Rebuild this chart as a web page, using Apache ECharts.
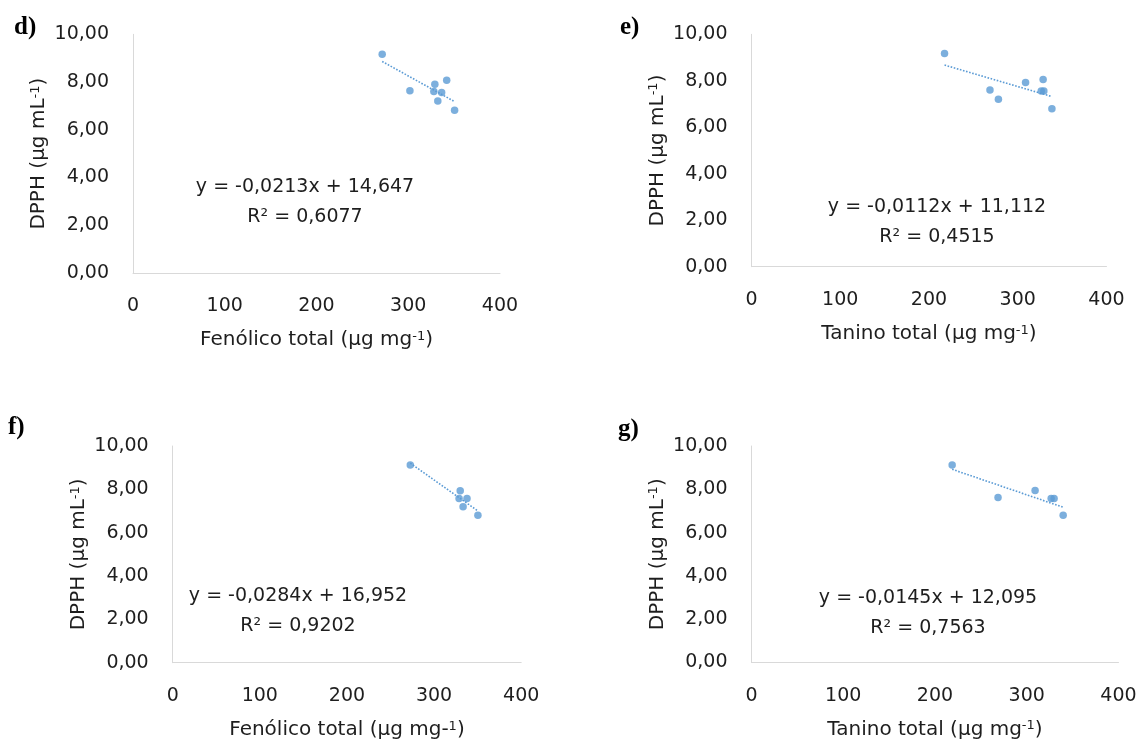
<!DOCTYPE html>
<html>
<head>
<meta charset="utf-8">
<script src="https://cdn.jsdelivr.net/npm/echarts@6/dist/echarts.min.js"></script>
<style>
html,body{margin:0;padding:0;background:#fff;}
#c{width:1142px;height:742px;}
</style>
</head>
<body>
<div id="c"></div>
<script>
// ---- data ----
const dX = [271.6, 301.8, 329.0, 327.9, 336.4, 332.2, 341.9, 350.5];
const dY = [9.16, 7.64, 7.91, 7.60, 7.56, 7.21, 8.07, 6.82];
const eX = [217.5, 268.7, 278.2, 308.8, 328.6, 326.5, 329.4, 338.5];
const eY = [9.17, 7.60, 7.20, 7.93, 8.05, 7.56, 7.56, 6.80];
const fX = [272.7, 330.0, 328.7, 337.8, 333.3, 350.3];
const fY = [9.12, 7.94, 7.58, 7.58, 7.20, 6.80];
const gX = [218.7, 268.7, 309.1, 326.6, 329.8, 339.7];
const gY = [9.12, 7.62, 7.94, 7.58, 7.58, 6.80];
// trendline coefficients (slope, intercept) and equation texts
const slopes = [-0.0213, -0.0112, -0.0284, -0.0145];
const intercepts = [14.647, 11.112, 16.952, 12.095];
const eqTexts = ['y = -0,0213x + 14,647', 'y = -0,0112x + 11,112', 'y = -0,0284x + 16,952', 'y = -0,0145x + 12,095'];
const r2Texts = ['R² = 0,6077', 'R² = 0,4515', 'R² = 0,9202', 'R² = 0,7563'];
const panelLetters = ['d)', 'e)', 'f)', 'g)'];
const xNames = ['Fenólico total (µg mg{sup|-1})', 'Tanino total (µg mg{sup|-1})', 'Fenólico total (µg mg-{sup|1})', 'Tanino total (µg mg{sup|-1})'];
const yName = 'DPPH (µg mL{sup|-1})';
const xTicks = [0, 400, 100];
const yTicks = [0, 10, 2];

// ---- layout ----
const grids = [
  {left: 133, top: 34.3, width: 367, height: 238.7},
  {left: 751.5, top: 34.3, width: 355, height: 232.4},
  {left: 172.7, top: 446, width: 348.5, height: 216.7},
  {left: 751.5, top: 446, width: 367, height: 216.5}
];
const letterPos = [[14, 28], [620, 28], [8, 428], [618, 430]];
const eqPos = [[305, 187, 217], [937, 207, 237], [298, 596, 626], [928, 598, 628]];

const FONT = 'DejaVu Sans';
const TXT = '#1e1e1e';
const BLUE = '#5b9bd5';
const AX = '#d9d9d9';
const FS = 19;
const FSN = 20;
const sup = {fontSize: 13, fontFamily: FONT, color: TXT, verticalAlign: 'top'};

const sets = [[dX, dY], [eX, eY], [fX, fY], [gX, gY]];
const xAxis = [], yAxis = [], series = [], graphic = [];

sets.forEach(([xs, ys], i) => {
  xAxis.push({
    type: 'value', gridIndex: i, min: xTicks[0], max: xTicks[1], interval: xTicks[2],
    name: xNames[i], nameLocation: 'middle', nameGap: 57,
    nameTextStyle: {fontFamily: FONT, fontSize: FSN, color: TXT, rich: {sup}},
    axisLine: {show: true, lineStyle: {color: AX, width: 1}},
    axisTick: {show: false}, splitLine: {show: false},
    axisLabel: {margin: 24, fontFamily: FONT, fontSize: FS, color: TXT}
  });
  yAxis.push({
    type: 'value', gridIndex: i, min: yTicks[0], max: yTicks[1], interval: yTicks[2],
    name: yName, nameLocation: 'middle', nameGap: 84, nameRotate: 90,
    nameTextStyle: {fontFamily: FONT, fontSize: FSN, color: TXT, rich: {sup}},
    axisLine: {show: true, lineStyle: {color: AX, width: 1}},
    axisTick: {show: false}, splitLine: {show: false},
    axisLabel: {margin: 24, fontFamily: FONT, fontSize: FS, color: TXT,
      formatter: v => v.toFixed(2).replace('.', ',')}
  });
  series.push({
    type: 'scatter', xAxisIndex: i, yAxisIndex: i, symbol: 'circle', symbolSize: 7.5,
    itemStyle: {color: BLUE}, data: xs.map((x, k) => [x, ys[k]]), z: 3
  });
  const x0 = Math.min(...xs), x1 = Math.max(...xs);
  series.push({
    type: 'line', xAxisIndex: i, yAxisIndex: i, symbol: 'none', silent: true,
    lineStyle: {color: BLUE, width: 1.6, type: [1.6, 1.6]},
    data: [[x0, slopes[i] * x0 + intercepts[i]], [x1, slopes[i] * x1 + intercepts[i]]], z: 2
  });
  graphic.push({type: 'text', left: letterPos[i][0], top: letterPos[i][1] - 13,
    style: {text: panelLetters[i], font: 'bold 25px "Liberation Serif"', fill: '#000'}});
  graphic.push({type: 'text', x: eqPos[i][0], y: eqPos[i][1],
    style: {text: eqTexts[i], fontFamily: FONT, fontSize: FS, fill: TXT, align: 'center', verticalAlign: 'middle'}});
  graphic.push({type: 'text', x: eqPos[i][0], y: eqPos[i][2],
    style: {text: r2Texts[i], fontFamily: FONT, fontSize: FS, fill: TXT, align: 'center', verticalAlign: 'middle'}});
});

const chart = echarts.init(document.getElementById('c'), null, {renderer: 'canvas'});
chart.setOption({
  animation: false,
  backgroundColor: '#fff',
  grid: grids.map(g => Object.assign({containLabel: false}, g)),
  xAxis, yAxis, series, graphic
});
</script>
</body>
</html>
